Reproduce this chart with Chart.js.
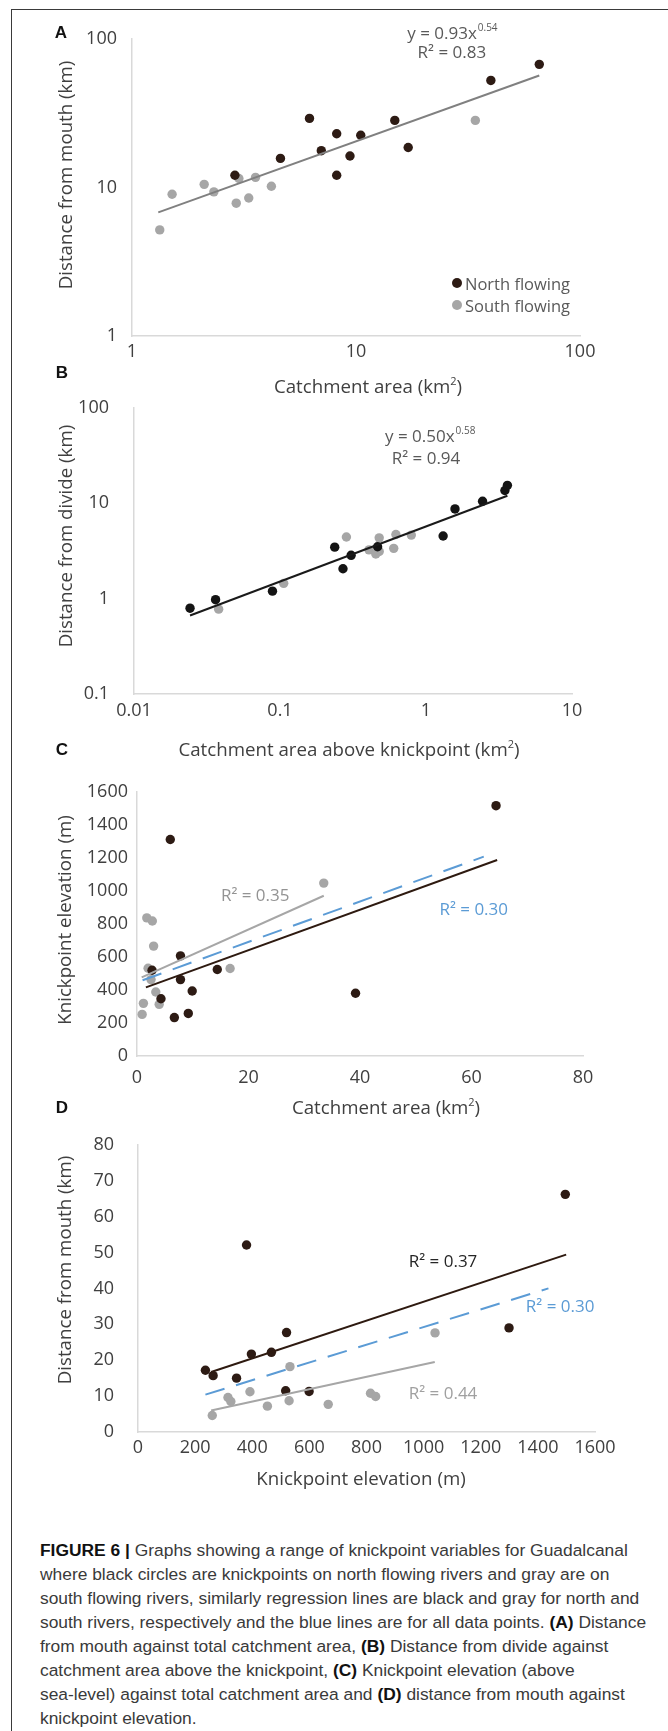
<!DOCTYPE html>
<html>
<head>
<meta charset="utf-8">
<script src="https://cdn.jsdelivr.net/npm/chart.js@4.4.0/dist/chart.umd.min.js"></script>
<style>
  body { margin: 0; background: #fff; }
  #page { position: relative; width: 668px; height: 1731px; overflow: hidden; font-family: "Open Sans", sans-serif; }
  #frame { position: absolute; left: 11px; top: 9px; right: 0; bottom: 0; border-top: 1px solid #3a3a3a; border-left: 1px solid #3a3a3a; }
  canvas { position: absolute; left: 0; }
  .t { position: absolute; white-space: nowrap; color: #404040; font-size: 18.7px; transform: translate(-50%, -50%); }
  .ty { transform: translate(-50%, -50%) rotate(-90deg); }
  .t sup { font-size: 11px; }
  .letter { position: absolute; font: bold 17px "Liberation Sans", Arial, sans-serif; color: #111; transform: translate(-50%, -50%); }
  .leg { position: absolute; font-size: 16.5px; color: #595959; white-space: nowrap; transform: translateY(-50%); }
  .dot { position: absolute; width: 10px; height: 10px; border-radius: 50%; transform: translate(-50%, -50%); }
  #caption { position: absolute; left: 40px; top: 1538px; font: 17.4px/24px "Liberation Sans", Arial, sans-serif; color: #3a3a3a; white-space: nowrap; }
  #caption b { color: #111; }
</style>
</head>
<body>
<div id="page">
  <div id="frame"></div>

  <canvas id="chartA" width="668" height="372" style="top:0px"></canvas>
  <canvas id="chartB" width="668" height="358" style="top:372px"></canvas>
  <canvas id="chartC" width="668" height="330" style="top:760px"></canvas>
  <canvas id="chartD" width="668" height="360" style="top:1110px"></canvas>

  <div class="letter" style="left:61px;top:33px">A</div>
  <div class="letter" style="left:62px;top:373px">B</div>
  <div class="letter" style="left:62px;top:750px">C</div>
  <div class="letter" style="left:62px;top:1108px">D</div>

  <div class="t ty" style="left:64px;top:175px">Distance from mouth (km)</div>
  <div class="t" style="left:368px;top:385px">Catchment area (km<sup>2</sup>)</div>
  <div class="t ty" style="left:64px;top:536px">Distance from divide (km)</div>
  <div class="t" style="left:349px;top:748px">Catchment area above knickpoint (km<sup>2</sup>)</div>
  <div class="t ty" style="left:63px;top:920px">Knickpoint elevation (m)</div>
  <div class="t" style="left:386px;top:1106px">Catchment area (km<sup>2</sup>)</div>
  <div class="t ty" style="left:63px;top:1270px">Distance from mouth (km)</div>
  <div class="t" style="left:361px;top:1477px">Knickpoint elevation (m)</div>

  <div class="dot" style="left:457px;top:283px;background:#2d1b14"></div>
  <div class="leg" style="left:465px;top:283px">North flowing</div>
  <div class="dot" style="left:457px;top:305px;background:#a6a6a6"></div>
  <div class="leg" style="left:465px;top:305px">South flowing</div>

  <div id="caption">
    <div><b>FIGURE 6 |</b> Graphs showing a range of knickpoint variables for Guadalcanal</div>
    <div>where black circles are knickpoints on north flowing rivers and gray are on</div>
    <div>south flowing rivers, similarly regression lines are black and gray for north and</div>
    <div>south rivers, respectively and the blue lines are for all data points. <b>(A)</b> Distance</div>
    <div>from mouth against total catchment area, <b>(B)</b> Distance from divide against</div>
    <div>catchment area above the knickpoint, <b>(C)</b> Knickpoint elevation (above</div>
    <div>sea-level) against total catchment area and <b>(D)</b> distance from mouth against</div>
    <div>knickpoint elevation.</div>
  </div>
</div>

<script>
// ---- Panel A: distance from mouth vs catchment area (log-log)
const aNorthX = [2.88, 4.6, 6.2, 7.0, 8.2, 8.2, 9.4, 10.5, 14.9, 17.1, 40.0, 65.8];
const aNorthY = [12.1, 15.7, 29.2, 17.7, 23.0, 12.1, 16.3, 22.5, 28.3, 18.6, 52.6, 67.5];
const aSouthX = [1.33, 1.51, 2.10, 2.32, 2.92, 3.0, 3.32, 3.56, 4.19, 34.1];
const aSouthY = [5.18, 9.0, 10.5, 9.35, 7.84, 11.5, 8.5, 11.7, 10.2, 28.3];
const aFitX = [1.31, 65.8];
const aFitY = [6.8, 56.8];
const aTicksX = [1, 10, 100];
const aTicksY = [1, 10, 100];

// ---- Panel B: distance from divide vs catchment above knickpoint (log-log)
const bNorthX = [0.0242, 0.0362, 0.0888, 0.237, 0.27, 0.307, 0.466, 1.31, 1.58, 2.44, 3.47, 3.61];
const bNorthY = [0.796, 0.977, 1.2, 3.47, 2.06, 2.85, 3.5, 4.54, 8.72, 10.5, 13.6, 15.4];
const bSouthX = [0.038, 0.106, 0.285, 0.407, 0.453, 0.478, 0.478, 0.601, 0.622, 0.793];
const bSouthY = [0.778, 1.45, 4.43, 3.25, 2.94, 3.13, 4.34, 3.37, 4.71, 4.64];
const bFitX = [0.0242, 3.61];
const bFitY = [0.668, 12.0];
const bTicksX = [0.01, 0.1, 1, 10];
const bTicksY = [0.1, 1, 10, 100];

// ---- Panel C: knickpoint elevation vs catchment area
const cNorthX = [5.97, 64.4, 7.8, 2.7, 7.8, 14.4, 9.9, 4.3, 6.7, 9.2, 39.2];
const cNorthY = [1312, 1517, 607, 520, 463, 524, 394, 347, 233, 258, 380];
const cSouthX = [1.76, 2.75, 2.98, 1.99, 2.52, 3.37, 1.15, 3.98, 0.92, 16.7, 33.5];
const cSouthY = [837, 818, 666, 532, 463, 388, 319, 313, 252, 530, 1048];
const cFitNorthX = [1.6, 64.6];
const cFitNorthY = [416, 1188];
const cFitSouthX = [0.84, 33.5];
const cFitSouthY = [477, 971];
const cFitAllX = [1.0, 62.2];
const cFitAllY = [459, 1208];

// ---- Panel D: distance from mouth vs knickpoint elevation
const dNorthX = [236, 263, 345, 380, 397, 467, 520, 517, 599, 1299, 1496];
const dNorthY = [17.2, 15.7, 15.0, 52.1, 21.7, 22.2, 27.7, 11.5, 11.3, 29.0, 66.2];
const dSouthX = [260, 315, 325, 392, 453, 532, 529, 666, 814, 832, 1040];
const dSouthY = [4.6, 9.6, 8.5, 11.2, 7.2, 18.2, 8.7, 7.7, 10.8, 9.9, 27.6];
const dFitNorthX = [256, 1499];
const dFitNorthY = [16.7, 49.4];
const dFitSouthX = [256, 1039];
const dFitSouthY = [6.0, 19.5];
const dFitAllX = [236, 1437];
const dFitAllY = [10.4, 40.0];

const DARK = '#2d1b14';
const GRAY = '#a6a6a6';
const BLUE = '#5b9bd5';
const AXIS = '#d9d9d9';
const TICK_FONT = { family: '"Open Sans", sans-serif', size: 18 };

const pts = (xs, ys) => xs.map((x, i) => ({ x, y: ys[i] }));

function pointSet(xs, ys, color) {
  return { data: pts(xs, ys), backgroundColor: color, borderWidth: 0, pointRadius: 4.7, pointHoverRadius: 4.7, order: 2 };
}
function fitSet(xs, ys, color, dash) {
  return { data: pts(xs, ys), showLine: true, borderColor: color, borderWidth: 2, borderDash: dash || [],
           pointRadius: 0, pointHoverRadius: 0, order: 1 };
}

// text annotations placed in data coordinates
const notesPlugin = {
  id: 'notes',
  afterDraw(chart, args, opts) {
    const { ctx, scales: { x, y } } = chart;
    (opts.items || []).forEach(n => {
      const px = x.getPixelForValue(n.x), py = y.getPixelForValue(n.y);
      ctx.save();
      ctx.textBaseline = 'middle';
      ctx.textAlign = 'left';
      ctx.font = '17px "Open Sans"';
      const w = ctx.measureText(n.text).width;
      let sw = 0;
      if (n.sup) { ctx.font = '10px "Open Sans"'; sw = ctx.measureText(n.sup).width; }
      const left = px - (w + sw) / 2;
      ctx.fillStyle = n.color;
      ctx.font = '17px "Open Sans"';
      ctx.fillText(n.text, left, py);
      if (n.sup) { ctx.font = '10px "Open Sans"'; ctx.fillText(n.sup, left + w + 1, py - 6); }
      ctx.restore();
    });
  }
};

function makeChart(id, datasets, cfg) {
  const axisOpts = (s) => {
    const o = {
      type: s.type,
      min: s.min, max: s.max,
      grid: { display: false, drawTicks: false },
      border: { display: true, color: AXIS, width: 1.5 },
      ticks: { color: '#404040', font: TICK_FONT, padding: s.pad, autoSkip: false, maxRotation: 0,
               stepSize: s.step, callback: v => String(v) },
      afterFit: s.fit
    };
    if (s.ticks) o.afterBuildTicks = sc => { sc.ticks = s.ticks.map(v => ({ value: v })); };
    return o;
  };
  return new Chart(document.getElementById(id), {
    type: 'scatter',
    data: { datasets },
    options: {
      responsive: false,
      animation: false,
      layout: { padding: { left: 0, top: cfg.top, right: cfg.right, bottom: 0 } },
      plugins: { legend: { display: false }, tooltip: { enabled: false }, notes: { items: cfg.notes } },
      scales: { x: axisOpts(cfg.x), y: axisOpts(cfg.y) }
    },
    plugins: [notesPlugin]
  });
}

makeChart('chartA', [
  fitSet(aFitX, aFitY, '#808080'),
  pointSet(aNorthX, aNorthY, DARK),
  pointSet(aSouthX, aSouthY, GRAY)
], {
  top: 39, right: 88,
  x: { type: 'logarithmic', min: 1, max: 100, ticks: aTicksX, pad: 5, fit: s => { s.height = 36; } },
  y: { type: 'logarithmic', min: 1, max: 100, ticks: aTicksY, pad: 15, fit: s => { s.width = 132; } },
  notes: [
    { x: 26.8, y: 108, text: 'y = 0.93x', sup: '0.54', color: '#595959' },
    { x: 26.8, y: 80.5, text: 'R² = 0.83', color: '#595959' }
  ]
});

makeChart('chartB', [
  fitSet(bFitX, bFitY, '#1a1a1a'),
  pointSet(bNorthX, bNorthY, '#141414'),
  pointSet(bSouthX, bSouthY, GRAY)
], {
  top: 27, right: 96,
  x: { type: 'logarithmic', min: 0.01, max: 10, ticks: bTicksX, pad: 6, fit: s => { s.height = 28; } },
  y: { type: 'logarithmic', min: 0.1, max: 100, ticks: bTicksY, pad: 25, fit: s => { s.width = 134; } },
  notes: [
    { x: 1.06, y: 49.3, text: 'y = 0.50x', sup: '0.58', color: '#595959' },
    { x: 1.0, y: 29.2, text: 'R² = 0.94', color: '#595959' }
  ]
});

makeChart('chartC', [
  fitSet(cFitAllX, cFitAllY, BLUE, [20, 12]),
  fitSet(cFitNorthX, cFitNorthY, '#2e1a10'),
  fitSet(cFitSouthX, cFitSouthY, GRAY),
  pointSet(cNorthX, cNorthY, DARK),
  pointSet(cSouthX, cSouthY, GRAY)
], {
  top: 32, right: 85,
  x: { type: 'linear', min: 0, max: 80, step: 20, pad: 11, fit: s => { s.height = 34; } },
  y: { type: 'linear', min: 0, max: 1600, step: 200, pad: 9, fit: s => { s.width = 137; } },
  notes: [
    { x: 21.2, y: 970, text: 'R² = 0.35', color: '#939393' },
    { x: 60.4, y: 885, text: 'R² = 0.30', color: BLUE }
  ]
});

makeChart('chartD', [
  fitSet(dFitAllX, dFitAllY, BLUE, [20, 12]),
  fitSet(dFitNorthX, dFitNorthY, '#2e1a10'),
  fitSet(dFitSouthX, dFitSouthY, GRAY),
  pointSet(dNorthX, dNorthY, DARK),
  pointSet(dSouthX, dSouthY, GRAY)
], {
  top: 25, right: 73,
  x: { type: 'linear', min: 0, max: 1600, step: 200, pad: 5, fit: s => { s.height = 38; } },
  y: { type: 'linear', min: 0, max: 80, step: 10, pad: 24, fit: s => { s.width = 138; } },
  notes: [
    { x: 1068, y: 47.4, text: 'R² = 0.37', color: '#262626' },
    { x: 1478, y: 34.7, text: 'R² = 0.30', color: BLUE },
    { x: 1068, y: 10.5, text: 'R² = 0.44', color: '#a0a0a0' }
  ]
});
</script>
</body>
</html>
